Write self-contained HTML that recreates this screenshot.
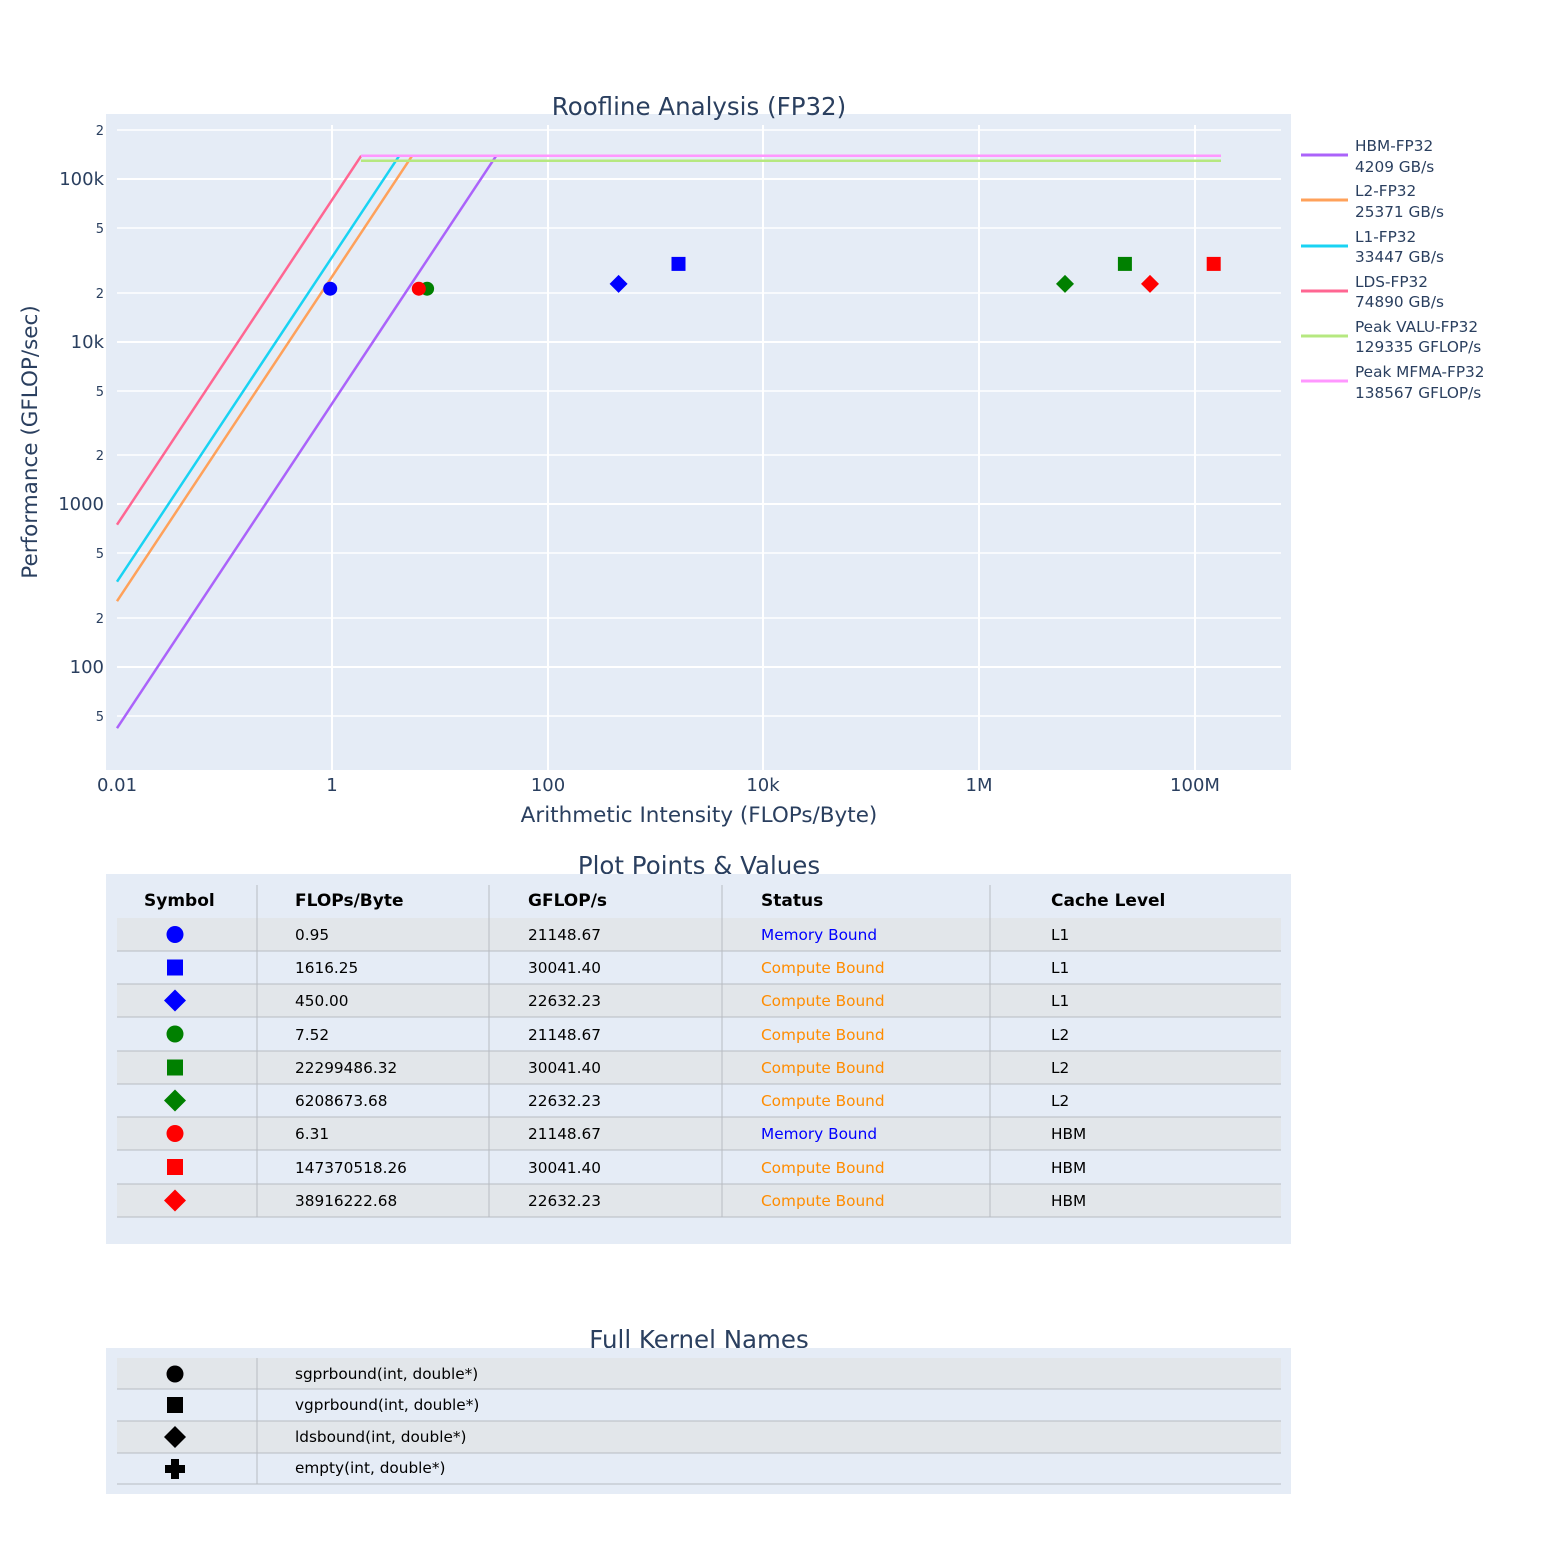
<!DOCTYPE html>
<html><head><meta charset="utf-8"><style>
html,body{margin:0;padding:0;background:#fff;}
svg text{font-family:"DejaVu Sans","Liberation Sans",sans-serif;}
</style></head><body>
<svg width="1563" height="1563" viewBox="0 0 1563 1563" xmlns="http://www.w3.org/2000/svg">
<rect x="0" y="0" width="1563" height="1563" fill="#fff"/>
<rect x="106" y="114" width="1185" height="656" fill="#e5ecf6"/>
<g stroke="#fff" stroke-width="1.5">
<line x1="117" x2="1281" y1="130" y2="130"/>
<line x1="117" x2="1281" y1="179" y2="179" stroke-width="2"/>
<line x1="117" x2="1281" y1="228" y2="228"/>
<line x1="117" x2="1281" y1="293" y2="293"/>
<line x1="117" x2="1281" y1="342" y2="342" stroke-width="2"/>
<line x1="117" x2="1281" y1="391" y2="391"/>
<line x1="117" x2="1281" y1="455" y2="455"/>
<line x1="117" x2="1281" y1="504" y2="504" stroke-width="2"/>
<line x1="117" x2="1281" y1="553" y2="553"/>
<line x1="117" x2="1281" y1="618" y2="618"/>
<line x1="117" x2="1281" y1="667" y2="667" stroke-width="2"/>
<line x1="117" x2="1281" y1="716" y2="716"/>
<line x1="332" x2="332" y1="125" y2="770" stroke-width="2"/>
<line x1="548" x2="548" y1="125" y2="770" stroke-width="2"/>
<line x1="763" x2="763" y1="125" y2="770" stroke-width="2"/>
<line x1="979" x2="979" y1="125" y2="770" stroke-width="2"/>
<line x1="1195" x2="1195" y1="125" y2="770" stroke-width="2"/>
</g>
<g fill="none" stroke-width="2.5">
<polyline points="117,728.2 496.2,155.8" stroke="#ab63fa"/>
<polyline points="117,601.2 412.1,155.8" stroke="#ffa15a"/>
<polyline points="117,581.7 399.2,155.8" stroke="#19d3f3"/>
<polyline points="117,524.7 361.2,155.8" stroke="#ff6692"/>
<polyline points="361,160.7 1221,160.7" stroke="#b6e880"/>
<polyline points="361,155.8 1221,155.8" stroke="#ff97ff"/>
</g>
<circle cx="330.2" cy="288.7" r="7" fill="#0000ff"/>
<rect x="671.5" y="256.9" width="14" height="14" fill="#0000ff"/>
<polygon points="618.6,274.9 627.6,283.9 618.6,292.9 609.6,283.9" fill="#0000ff"/>
<circle cx="427.1" cy="288.7" r="7" fill="#008000"/>
<rect x="1117.9" y="256.9" width="14" height="14" fill="#008000"/>
<polygon points="1065,274.9 1074,283.9 1065,292.9 1056,283.9" fill="#008000"/>
<circle cx="418.8" cy="288.7" r="7" fill="#ff0000"/>
<rect x="1206.7" y="256.9" width="14" height="14" fill="#ff0000"/>
<polygon points="1150,274.9 1159,283.9 1150,292.9 1141,283.9" fill="#ff0000"/>
<g fill="#2a3f5f" font-size="18" text-anchor="end">
<text x="104" y="185">100k</text><text x="104" y="348">10k</text>
<text x="104" y="510">1000</text><text x="104" y="673">100</text>
</g>
<g fill="#2a3f5f" font-size="13" text-anchor="end">
<text x="104" y="135">2</text><text x="104" y="233">5</text><text x="104" y="298">2</text>
<text x="104" y="396">5</text><text x="104" y="460">2</text><text x="104" y="558">5</text>
<text x="104" y="623">2</text><text x="104" y="721">5</text>
</g>
<g fill="#2a3f5f" font-size="18" text-anchor="middle">
<text x="117" y="791">0.01</text><text x="332" y="791">1</text><text x="548" y="791">100</text>
<text x="763" y="791">10k</text><text x="979" y="791">1M</text><text x="1195" y="791">100M</text>
</g>
<text x="699" y="822" fill="#2a3f5f" font-size="21.5" text-anchor="middle">Arithmetic Intensity (FLOPs/Byte)</text>
<text transform="translate(37,442) rotate(-90)" fill="#2a3f5f" font-size="21.5" text-anchor="middle">Performance (GFLOP/sec)</text>
<text x="699" y="115" fill="#2a3f5f" font-size="24.5" text-anchor="middle">Roofline Analysis (FP32)</text>
<g font-size="15.3" fill="#2a3f5f" stroke-width="3">
<line x1="1301" x2="1348" y1="155" y2="155" stroke="#ab63fa"/><text x="1355" y="151">HBM-FP32</text><text x="1355" y="172">4209 GB/s</text>
<line x1="1301" x2="1348" y1="200" y2="200" stroke="#ffa15a"/><text x="1355" y="196">L2-FP32</text><text x="1355" y="217">25371 GB/s</text>
<line x1="1301" x2="1348" y1="246" y2="246" stroke="#19d3f3"/><text x="1355" y="242">L1-FP32</text><text x="1355" y="262">33447 GB/s</text>
<line x1="1301" x2="1348" y1="291" y2="291" stroke="#ff6692"/><text x="1355" y="287">LDS-FP32</text><text x="1355" y="307">74890 GB/s</text>
<line x1="1301" x2="1348" y1="336" y2="336" stroke="#b6e880"/><text x="1355" y="332">Peak VALU-FP32</text><text x="1355" y="352">129335 GFLOP/s</text>
<line x1="1301" x2="1348" y1="381" y2="381" stroke="#ff97ff"/><text x="1355" y="377">Peak MFMA-FP32</text><text x="1355" y="398">138567 GFLOP/s</text>
</g>
<text x="699" y="874" fill="#2a3f5f" font-size="24.5" text-anchor="middle">Plot Points &amp; Values</text>
<rect x="106" y="874" width="1185" height="370" fill="#e5ecf6"/>
<g fill="#e2e6ea">
<rect x="117" y="918" width="1164" height="33"/>
<rect x="117" y="984" width="1164" height="33"/>
<rect x="117" y="1051" width="1164" height="33"/>
<rect x="117" y="1117" width="1164" height="33"/>
<rect x="117" y="1184" width="1164" height="33"/>
</g>
<g stroke="#b8bcc2" stroke-width="1">
<line x1="117" x2="1281" y1="951" y2="951"/><line x1="117" x2="1281" y1="984" y2="984"/>
<line x1="117" x2="1281" y1="1017" y2="1017"/><line x1="117" x2="1281" y1="1051" y2="1051"/>
<line x1="117" x2="1281" y1="1084" y2="1084"/><line x1="117" x2="1281" y1="1117" y2="1117"/>
<line x1="117" x2="1281" y1="1150" y2="1150"/><line x1="117" x2="1281" y1="1184" y2="1184"/>
<line x1="117" x2="1281" y1="1217" y2="1217"/>
<line x1="257" x2="257" y1="885" y2="1217"/><line x1="489" x2="489" y1="885" y2="1217"/>
<line x1="722" x2="722" y1="885" y2="1217"/><line x1="990" x2="990" y1="885" y2="1217"/>
</g>
<g font-size="17" font-weight="bold" fill="#000">
<text x="144" y="906">Symbol</text><text x="295" y="906">FLOPs/Byte</text><text x="528" y="906">GFLOP/s</text>
<text x="761" y="906">Status</text><text x="1051" y="906">Cache Level</text>
</g>
<g font-size="15.3" fill="#000">
<text x="295" y="940">0.95</text><text x="528" y="940">21148.67</text><text x="761" y="940" fill="#0000ff">Memory Bound</text><text x="1051" y="940">L1</text>
<text x="295" y="973">1616.25</text><text x="528" y="973">30041.40</text><text x="761" y="973" fill="#ff8c00">Compute Bound</text><text x="1051" y="973">L1</text>
<text x="295" y="1006">450.00</text><text x="528" y="1006">22632.23</text><text x="761" y="1006" fill="#ff8c00">Compute Bound</text><text x="1051" y="1006">L1</text>
<text x="295" y="1040">7.52</text><text x="528" y="1040">21148.67</text><text x="761" y="1040" fill="#ff8c00">Compute Bound</text><text x="1051" y="1040">L2</text>
<text x="295" y="1073">22299486.32</text><text x="528" y="1073">30041.40</text><text x="761" y="1073" fill="#ff8c00">Compute Bound</text><text x="1051" y="1073">L2</text>
<text x="295" y="1106">6208673.68</text><text x="528" y="1106">22632.23</text><text x="761" y="1106" fill="#ff8c00">Compute Bound</text><text x="1051" y="1106">L2</text>
<text x="295" y="1139">6.31</text><text x="528" y="1139">21148.67</text><text x="761" y="1139" fill="#0000ff">Memory Bound</text><text x="1051" y="1139">HBM</text>
<text x="295" y="1173">147370518.26</text><text x="528" y="1173">30041.40</text><text x="761" y="1173" fill="#ff8c00">Compute Bound</text><text x="1051" y="1173">HBM</text>
<text x="295" y="1206">38916222.68</text><text x="528" y="1206">22632.23</text><text x="761" y="1206" fill="#ff8c00">Compute Bound</text><text x="1051" y="1206">HBM</text>
</g>
<circle cx="175" cy="934.5" r="8.5" fill="#0000ff"/>
<rect x="167" y="959.5" width="16" height="16" fill="#0000ff"/>
<polygon points="175,989.5 186,1000.5 175,1011.5 164,1000.5" fill="#0000ff"/>
<circle cx="175" cy="1034" r="8.5" fill="#008000"/>
<rect x="167" y="1059.5" width="16" height="16" fill="#008000"/>
<polygon points="175,1089.5 186,1100.5 175,1111.5 164,1100.5" fill="#008000"/>
<circle cx="175" cy="1133.5" r="8.5" fill="#ff0000"/>
<rect x="167" y="1159" width="16" height="16" fill="#ff0000"/>
<polygon points="175,1189.5 186,1200.5 175,1211.5 164,1200.5" fill="#ff0000"/>
<text x="699" y="1348" fill="#2a3f5f" font-size="24.5" text-anchor="middle">Full Kernel Names</text>
<rect x="106" y="1348" width="1185" height="146" fill="#e5ecf6"/>
<g fill="#e2e6ea">
<rect x="117" y="1358" width="1164" height="31"/>
<rect x="117" y="1421" width="1164" height="32"/>
</g>
<g stroke="#b8bcc2" stroke-width="1">
<line x1="117" x2="1281" y1="1389" y2="1389"/><line x1="117" x2="1281" y1="1421" y2="1421"/>
<line x1="117" x2="1281" y1="1453" y2="1453"/><line x1="117" x2="1281" y1="1484" y2="1484"/>
<line x1="257" x2="257" y1="1358" y2="1484"/>
</g>
<g font-size="15.3" fill="#000">
<text x="295" y="1379">sgprbound(int, double*)</text>
<text x="295" y="1410">vgprbound(int, double*)</text>
<text x="295" y="1442">ldsbound(int, double*)</text>
<text x="295" y="1473">empty(int, double*)</text>
</g>
<circle cx="175" cy="1374" r="8.5" fill="#000"/>
<rect x="167" y="1397" width="16" height="16" fill="#000"/>
<polygon points="175,1426 186,1437 175,1448 164,1437" fill="#000"/>
<path d="M171,1459h8v6h6v8h-6v6h-8v-6h-6v-8h6z" fill="#000"/>
</svg>
</body></html>
